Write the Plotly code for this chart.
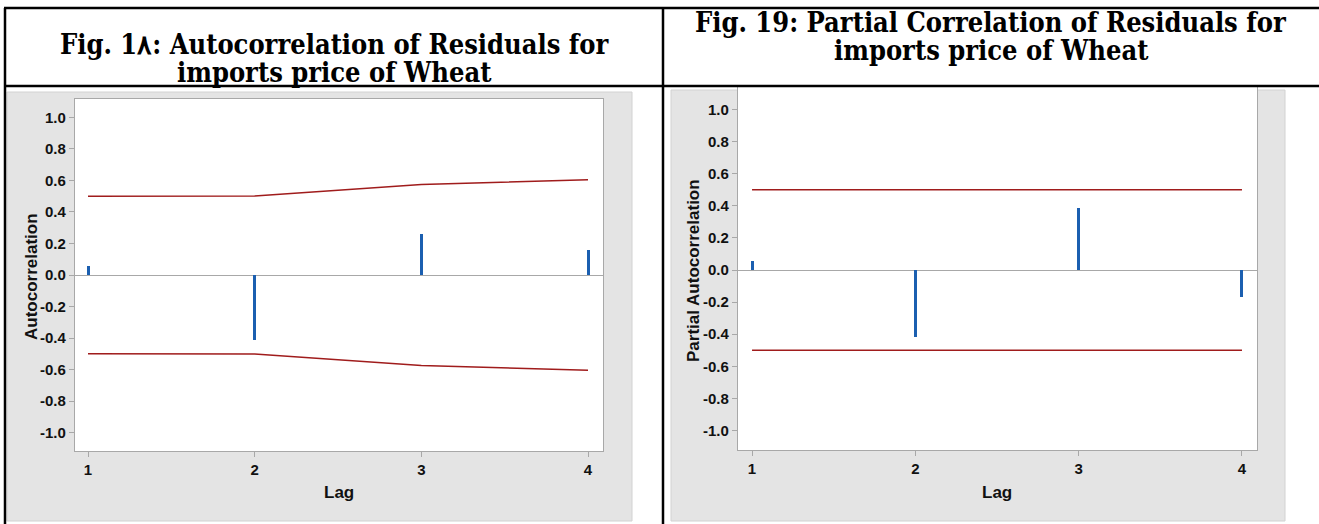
import plotly.graph_objects as go

W, H = 1319, 524

# Residual ACF (left) and PACF (right) for wheat import prices
lags = [1, 2, 3, 4]
acf_values = [0.057, -0.41, 0.26, 0.16]
acf_upper = [0.50, 0.502, 0.575, 0.605]
acf_lower = [-0.50, -0.502, -0.575, -0.605]
pacf_values = [0.058, -0.42, 0.384, -0.17]
pacf_upper = [0.50, 0.50, 0.50, 0.50]
pacf_lower = [-0.50, -0.50, -0.50, -0.50]

y_ticks = [1.0, 0.8, 0.6, 0.4, 0.2, 0.0, -0.2, -0.4, -0.6, -0.8, -1.0]
y_tick_text = ["1.0", "0.8", "0.6", "0.4", "0.2", "0.0", "-0.2", "-0.4", "-0.6", "-0.8", "-1.0"]
x_tick_text = ["1", "2", "3", "4"]

left_title = ["Fig. 1٨: Autocorrelation of Residuals for", "imports price of Wheat"]
right_title = ["Fig. 19: Partial Correlation of Residuals for", "imports price of Wheat"]

BAR = "#1b5fb0"
LIMIT = "#a01c1c"
PANEL = "#e4e4e4"
FRAME = "#a8a8a8"
TICK_FONT = dict(family="Liberation Sans Narrow, Arial Narrow, Liberation Sans, Arial", size=15,
                 color="#111111", weight="bold")


def px(x):
    return x / W


def py(y):
    return 1 - y / H


fig = go.Figure()

# left: autocorrelation
fig.add_trace(go.Bar(x=lags, y=acf_values, width=0.018, marker=dict(color=BAR, line=dict(width=0)),
                     xaxis="x", yaxis="y", showlegend=False))
fig.add_trace(go.Scatter(x=lags, y=acf_upper, mode="lines", line=dict(color=LIMIT, width=1.5),
                         xaxis="x", yaxis="y", showlegend=False))
fig.add_trace(go.Scatter(x=lags, y=acf_lower, mode="lines", line=dict(color=LIMIT, width=1.5),
                         xaxis="x", yaxis="y", showlegend=False))

# right: partial autocorrelation
fig.add_trace(go.Bar(x=lags, y=pacf_values, width=0.0184, marker=dict(color=BAR, line=dict(width=0)),
                     xaxis="x2", yaxis="y2", showlegend=False))
fig.add_trace(go.Scatter(x=lags, y=pacf_upper, mode="lines", line=dict(color=LIMIT, width=1.5),
                         xaxis="x2", yaxis="y2", showlegend=False))
fig.add_trace(go.Scatter(x=lags, y=pacf_lower, mode="lines", line=dict(color=LIMIT, width=1.5),
                         xaxis="x2", yaxis="y2", showlegend=False))

axis_common = dict(showgrid=False, showline=True, linecolor=FRAME, linewidth=1.3,
                   ticks="outside", ticklen=5, tickcolor=FRAME, tickwidth=1,
                   tickfont=TICK_FONT, fixedrange=True)

fig.update_layout(
    width=W, height=H,
    margin=dict(l=0, r=0, t=0, b=0),
    paper_bgcolor="white",
    plot_bgcolor="rgba(0,0,0,0)",
    bargap=0,
    xaxis=dict(domain=[px(75), px(603)], range=[0.922, 4.09], tickvals=lags, ticktext=x_tick_text,
               mirror=True, zeroline=False, anchor="y", **axis_common),
    yaxis=dict(domain=[py(451), py(99)], range=[-1.117, 1.117], tickvals=y_ticks, ticktext=y_tick_text,
               mirror=True, zeroline=True, zerolinecolor=FRAME, zerolinewidth=1.3, anchor="x",
               **axis_common),
    xaxis2=dict(domain=[px(738), px(1257)], range=[0.914, 4.092], tickvals=lags, ticktext=x_tick_text,
                mirror=False, zeroline=False, anchor="y2", **axis_common),
    yaxis2=dict(domain=[py(450), py(86)], range=[-1.121, 1.146], tickvals=y_ticks, ticktext=y_tick_text,
                mirror=True, zeroline=True, zerolinecolor=FRAME, zerolinewidth=1.3, anchor="x2",
                **axis_common),
)

shapes = []
# grey chart panels with white plotting areas
shapes.append(dict(type="rect", xref="paper", yref="paper", x0=px(7), x1=px(632), y0=py(521), y1=py(92),
                   fillcolor=PANEL, line=dict(color="#d2d2d2", width=1), layer="below"))
shapes.append(dict(type="rect", xref="paper", yref="paper", x0=px(75), x1=px(603), y0=py(451), y1=py(99),
                   fillcolor="white", line=dict(width=0), layer="below"))
shapes.append(dict(type="rect", xref="paper", yref="paper", x0=px(671), x1=px(1285), y0=py(521), y1=py(90),
                   fillcolor=PANEL, line=dict(color="#d2d2d2", width=1), layer="below"))
shapes.append(dict(type="rect", xref="paper", yref="paper", x0=px(738), x1=px(1257), y0=py(450), y1=py(86),
                   fillcolor="white", line=dict(width=0), layer="below"))
# table rules
rule = dict(color="black", width=2.5)
shapes.append(dict(type="line", xref="paper", yref="paper", x0=px(4), x1=1, y0=py(8), y1=py(8), line=rule))
shapes.append(dict(type="line", xref="paper", yref="paper", x0=px(4), x1=1, y0=py(86), y1=py(86), line=rule))
shapes.append(dict(type="line", xref="paper", yref="paper", x0=px(5), x1=px(5), y0=0, y1=py(8), line=rule))
shapes.append(dict(type="line", xref="paper", yref="paper", x0=px(663), x1=px(663), y0=0, y1=py(8), line=rule))
fig.update_layout(shapes=shapes)

TITLE_FONT = dict(family="DejaVu Serif Condensed, Liberation Serif, Times New Roman, serif", size=27,
                  color="black", weight="bold")
LABEL_FONT = dict(family="Liberation Sans, Arial, sans-serif", size=17, color="#111111", weight="bold")

annotations = []
for text, yc in zip(left_title, [44, 72]):
    annotations.append(dict(text=text, x=px(334), y=py(yc), xref="paper", yref="paper", showarrow=False,
                            xanchor="center", yanchor="middle", font=TITLE_FONT))
for text, yc in zip(right_title, [23, 51]):
    annotations.append(dict(text=text, x=px(991), y=py(yc), xref="paper", yref="paper", showarrow=False,
                            xanchor="center", yanchor="middle", font=TITLE_FONT))
annotations.append(dict(text="Autocorrelation", x=px(31), y=py(277), xref="paper", yref="paper",
                        showarrow=False, textangle=-90, xanchor="center", yanchor="middle", font=LABEL_FONT))
annotations.append(dict(text="Partial Autocorrelation", x=px(693), y=py(271), xref="paper", yref="paper",
                        showarrow=False, textangle=-90, xanchor="center", yanchor="middle", font=LABEL_FONT))
lag_font = dict(family="Liberation Sans Narrow, Arial Narrow, Liberation Sans, Arial", size=17,
                color="#111111", weight="bold")
annotations.append(dict(text="Lag", x=px(339), y=py(492), xref="paper", yref="paper", showarrow=False,
                        xanchor="center", yanchor="middle", font=lag_font))
annotations.append(dict(text="Lag", x=px(997), y=py(492), xref="paper", yref="paper", showarrow=False,
                        xanchor="center", yanchor="middle", font=lag_font))
fig.update_layout(annotations=annotations)

fig.write_html("out.html", config={"displayModeBar": False})
